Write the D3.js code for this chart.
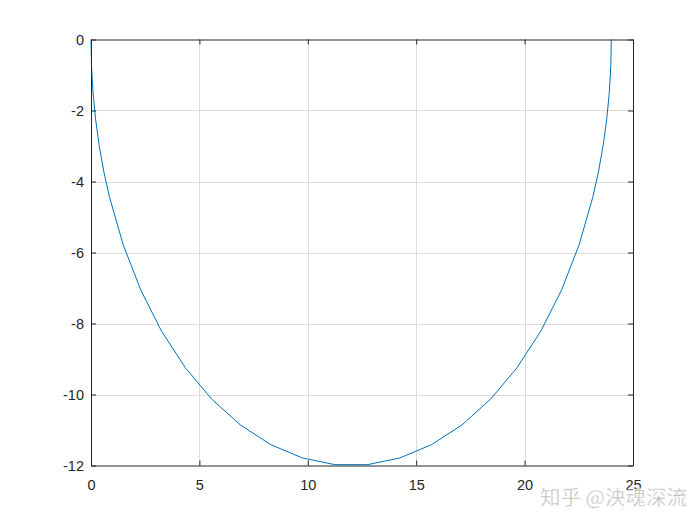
<!DOCTYPE html>
<html><head><meta charset="utf-8">
<script src="https://cdn.jsdelivr.net/npm/d3@7"></script>
<style>body{margin:0;background:#fff}svg{display:block}</style>
</head><body>
<script>
const xs = [0, 0.0237, 0.0947, 0.2125, 0.377, 0.587, 0.843, 1.484, 2.292, 3.252, 4.351, 5.570, 6.891, 8.292, 9.751, 11.247,
            12.753, 14.249, 15.708, 17.109, 18.430, 19.649, 20.748, 21.708, 22.516, 23.157, 23.413, 23.623, 23.788, 23.905, 23.976, 24];
const ys = [0, -0.753, -1.504, -2.249, -2.984, -3.708, -4.417, -5.781, -7.053, -8.215, -9.246, -10.132, -10.858, -11.413, -11.787, -11.976,
            -11.976, -11.787, -11.413, -10.858, -10.132, -9.246, -8.215, -7.053, -5.781, -4.417, -3.708, -2.984, -2.249, -1.504, -0.753, 0];
const xTicks = [0, 5, 10, 15, 20, 25];
const yTicks = [0, -2, -4, -6, -8, -10, -12];

const W = 700, H = 525;
const L = 91, R = 633, T = 39.5, B = 465.5;
const svg = d3.select("body").append("svg").attr("width", W).attr("height", H);
const x = d3.scaleLinear().domain([0, 25]).range([L, R]);
const y = d3.scaleLinear().domain([-12, 0]).range([B, T]);
const axisCol = "#262626";
const font = "'Liberation Sans', Arial, sans-serif";

// grid
const g = svg.append("g");
g.selectAll(".gx").data(xTicks.slice(1, -1)).join("line")
  .attr("x1", d => Math.round(x(d)) + 0.5).attr("x2", d => Math.round(x(d)) + 0.5)
  .attr("y1", T).attr("y2", B).attr("stroke", "#dcdcdc").attr("stroke-width", 1);
g.selectAll(".gy").data(yTicks.slice(1, -1)).join("line")
  .attr("y1", d => Math.round(y(d)) + 0.5).attr("y2", d => Math.round(y(d)) + 0.5)
  .attr("x1", L).attr("x2", R).attr("stroke", "#dcdcdc").attr("stroke-width", 1);

// curve
const line = d3.line().x((d, i) => x(xs[i])).y((d, i) => y(ys[i]));
svg.append("path").datum(xs).attr("d", line).attr("fill", "none")
  .attr("stroke", "#0072BD").attr("stroke-width", 1);

// axes (ticks inward)
const tl = 5;
const fmt = d => String(d);
const axB = d3.axisBottom(x).tickValues(xTicks).tickSizeInner(-tl).tickSizeOuter(0).tickFormat(fmt);
const axT = d3.axisTop(x).tickValues(xTicks).tickSizeInner(-tl).tickSizeOuter(0).tickFormat("");
const axL = d3.axisLeft(y).tickValues(yTicks).tickSizeInner(-tl).tickSizeOuter(0).tickFormat(fmt);
const axR = d3.axisRight(y).tickValues(yTicks).tickSizeInner(-tl).tickSizeOuter(0).tickFormat("");
function style(sel) {
  sel.selectAll("path").attr("stroke", axisCol);
  sel.selectAll("line").attr("stroke", axisCol);
  sel.selectAll("text").attr("fill", axisCol).style("font-family", font).style("font-size", "14.5px");
}
svg.append("g").attr("transform", `translate(0,${B})`).call(axB).call(style)
  .selectAll("text").attr("y", 14);
svg.append("g").attr("transform", `translate(0,${T})`).call(axT).call(style);
svg.append("g").attr("transform", `translate(${L},0)`).call(axL).call(style)
  .selectAll("text").attr("x", -7);
svg.append("g").attr("transform", `translate(${R},0)`).call(axR).call(style);
svg.selectAll(".domain").attr("stroke", axisCol);

// watermark
svg.append("text").attr("x", 540).attr("y", 505).text("知乎 @泱魂深流")
  .attr("fill", "#bdbdbd").attr("stroke", "#fff").attr("stroke-width", 0.4)
  .style("font-family", "'Noto Sans CJK SC', sans-serif").style("font-size", "20.5px");
</script>
</body></html>
